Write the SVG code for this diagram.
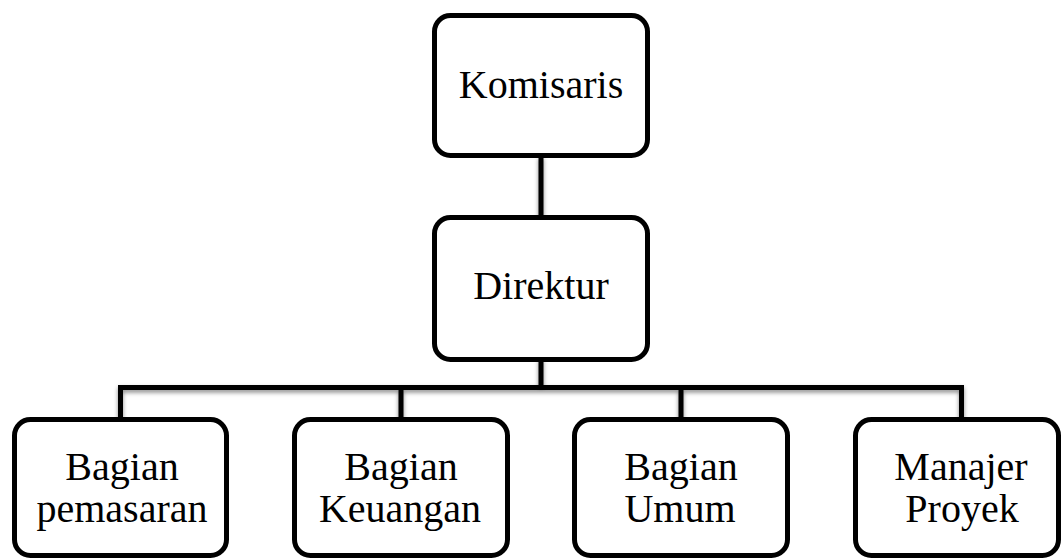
<svg xmlns="http://www.w3.org/2000/svg" width="1062" height="559" viewBox="0 0 1062 559">
  <style>
    .box { fill: #ffffff; stroke: #000000; stroke-width: 5; }
    .lbl { font-family: "Liberation Serif", "Times New Roman", serif; font-size: 40px; fill: #000000; text-anchor: middle; }
    .conn { fill: none; stroke: #000000; stroke-width: 5; }
  </style>
  <defs>
    <filter id="sh" x="-5%" y="-20%" width="110%" height="160%">
      <feDropShadow dx="0" dy="2.5" stdDeviation="2" flood-color="#000000" flood-opacity="0.45"/>
    </filter>
  </defs>
  <rect width="1062" height="559" fill="#ffffff"/>
  <g id="connectors" filter="url(#sh)">
    <path class="conn" d="M541 156 V218"/>
    <path class="conn" d="M541 358 V387.5"/>
    <path class="conn" d="M120.5 420 V387.5 H961.5 V420"/>
    <path class="conn" d="M401 387.5 V420"/>
    <path class="conn" d="M681 387.5 V420"/>
  </g>
  <g id="komisaris">
    <rect class="box" x="434.5" y="15.5" width="213" height="140" rx="16"/>
    <text class="lbl" x="541" y="98">Komisaris</text>
  </g>
  <g id="direktur">
    <rect class="box" x="434.5" y="217.5" width="213" height="142" rx="16"/>
    <text class="lbl" x="541" y="299">Direktur</text>
  </g>
  <g id="bagian-pemasaran">
    <rect class="box" x="14.5" y="419.5" width="212" height="136" rx="16"/>
    <text class="lbl" x="122" y="480">Bagian</text>
    <text class="lbl" x="122" y="522">pemasaran</text>
  </g>
  <g id="bagian-keuangan">
    <rect class="box" x="294.5" y="419.5" width="213" height="136" rx="16"/>
    <text class="lbl" x="401" y="480">Bagian</text>
    <text class="lbl" x="400" y="522">Keuangan</text>
  </g>
  <g id="bagian-umum">
    <rect class="box" x="574.5" y="419.5" width="213" height="136" rx="16"/>
    <text class="lbl" x="681" y="480">Bagian</text>
    <text class="lbl" x="680" y="522">Umum</text>
  </g>
  <g id="manajer-proyek">
    <rect class="box" x="855.5" y="419.5" width="203" height="136" rx="16"/>
    <text class="lbl" x="961" y="480">Manajer</text>
    <text class="lbl" x="962" y="522">Proyek</text>
  </g>
</svg>
